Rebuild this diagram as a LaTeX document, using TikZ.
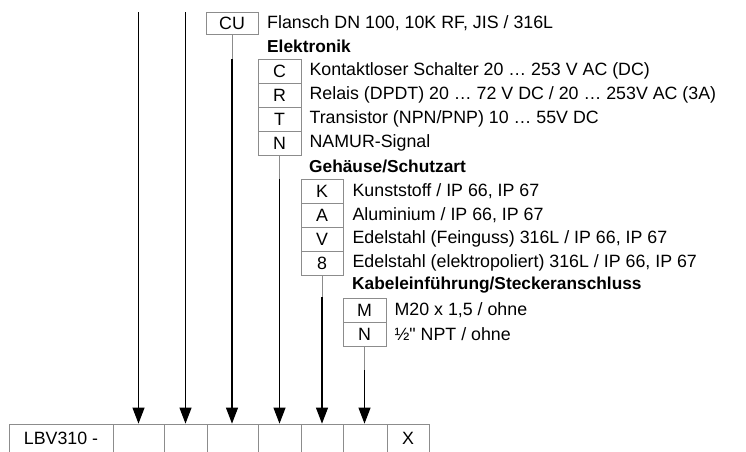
\documentclass[tikz,border=0pt]{standalone}
\usepackage{fontspec}
\setmainfont{Liberation Sans}[Ligatures=TeXOff]
\usepackage{tikz}
\usetikzlibrary{positioning}
\usetikzlibrary{arrows.meta,calc}
\tikzstyle{codebox}=[rectangle,draw=black!45,line width=0.8pt,minimum height=24pt,inner sep=0pt,font=\fontsize{17.8}{20}\selectfont]
\tikzstyle{cell}=[rectangle,draw=black!45,line width=0.8pt,minimum height=28pt,inner sep=0pt,font=\fontsize{17.8}{20}\selectfont]
\tikzstyle{desc}=[anchor=west,inner sep=0pt,font=\fontsize{17.8}{20}\selectfont]
\tikzstyle{heading}=[anchor=west,inner sep=0pt,font=\fontsize{17.3}{20}\selectfont\bfseries]
\tikzstyle{edge} = [draw,line width=1.1pt,-{Triangle[length=16pt,width=12pt]}]
\tikzstyle{feeder} = [draw,black!45,line width=0.8pt]

\begin{document}
\begin{tikzpicture}[x=1pt,y=-1pt]
    \useasboundingbox (0,0) rectangle (746,451);
    % First we draw the cells of the type code
    \foreach \x/\w/\name/\label in {9/104/c0/{LBV310 -}, 113/51/c1/{}, 164/43/c2/{}, 207/51/c3/{}, 258/43/c4/{}, 301/42/c5/{}, 343/44/c6/{}, 387/42/c7/X}
        \node[cell,minimum width=\w pt] (\name) at ({\x+\w/2},438) {\label};

    % Flange
    \node[codebox,minimum width=52pt,minimum height=22pt] (cu) at (232,23) {CU};
    \node[desc] (cut) at (267,23) {Flansch DN 100, 10K RF, JIS / 316L};

    % Electronics
    \node[heading] (helek) at (267,46) {Elektronik};
    \foreach \pos/\name/\label in {{(279.5,71)/C/C}, {(279.5,95)/R/R}, {(279.5,119)/T/T}, {(279.5,143)/N/N}}
        \node[codebox,minimum width=43pt] (\name) at \pos {\label};
    \foreach \name/\text in {C/{Kontaktloser Schalter 20 \dots\ 253 V AC (DC)}, R/{Relais (DPDT) 20 \dots\ 72 V DC / 20 \dots\ 253V AC (3A)}, T/{Transistor (NPN/PNP) 10 \dots\ 55V DC}, N/{NAMUR-Signal}}
        \node[desc] (\name t) at ($(\name.east)+(8,0)$) {\text};

    % Housing
    \node[heading] (hgeh) at (309,166) {Gehäuse/Schutzart};
    \foreach \pos/\name/\label in {{(322,191)/K/K}, {(322,215)/A/A}, {(322,239)/V/V}, {(322,263)/G8/8}}
        \node[codebox,minimum width=42pt] (\name) at \pos {\label};
    \foreach \name/\text in {K/{Kunststoff / IP 66, IP 67}, A/{Aluminium / IP 66, IP 67}, V/{Edelstahl (Feinguss) 316L / IP 66, IP 67}, G8/{Edelstahl (elektropoliert) 316L / IP 66, IP 67}}
        \node[desc] (\name t) at ($(\name.east)+(9,0)$) {\text};

    % Cable entry
    \node[heading] (hkab) at (352,285) {Kabeleinführung/Steckeranschluss};
    \foreach \pos/\name/\label in {{(364.5,310)/M/M}, {(364.5,334)/NN/N}}
        \node[codebox,minimum width=43pt] (\name) at \pos {\label};
    \node[desc] (Mt) at ($(M.east)+(8,0)$) {M20 x 1,5 / ohne};
    \node[desc] (NNt) at ($(NN.east)+(8,0)$) {½" NPT / ohne};

    % Connect the groups with the cells
    \coordinate (top1) at (138.5,12);
    \coordinate (top2) at (185.5,12);
    \path[edge] (top1) -- (top1 |- c1.north);
    \path[edge] (top2) -- (top2 |- c2.north);
    \foreach \source/\dest/\len in {cu/c3/25, N/c4/24, G8/c5/22, NN/c6/24}
    {
        \path[edge] ($(\source.south)+(0,\len)$) -- (\source.south |- \dest.north);
        \path[feeder] (\source.south) -- ++(0,\len);
    }
\end{tikzpicture}
\end{document}
